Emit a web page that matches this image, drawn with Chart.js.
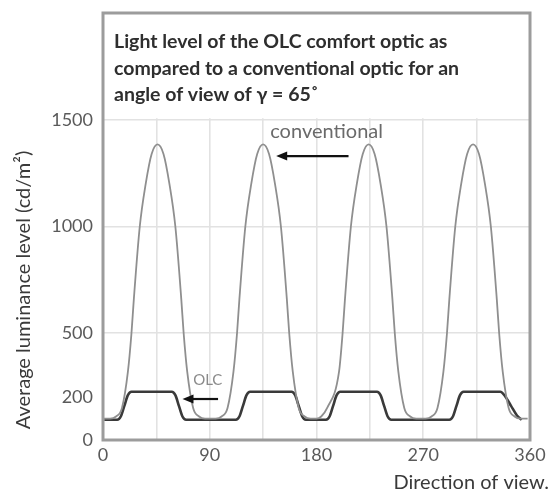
<!DOCTYPE html>
<html>
<head>
<meta charset="utf-8">
<script src="https://cdn.jsdelivr.net/npm/chart.js@4"></script>
<style>
html,body{margin:0;padding:0;background:#fff;}
#wrap{width:550px;height:493px;position:relative;}
</style>
</head>
<body>
<div id="wrap"><canvas id="c" width="550" height="493"></canvas></div>
<script>
// ---- data ----
const titleLines = ["Light level of the OLC comfort optic as", "compared to a conventional optic for an", "angle of view of \u03b3 = 65\u02da"];
const yAxisTitle = "Average luminance level (cd/m\u00b2)";
const xAxisTitle = "Direction of view.";
const yTickValues = [0, 200, 500, 1000, 1500];
const xTickStep = 45;
const xLabelStep = 90;

const convAngles = [0, 6, 11, 16, 21, 24, 26, 31, 36, 41, 46, 51, 56, 61, 66, 68, 71, 76, 81, 86,
  95, 100, 105, 110, 113, 115, 120, 125, 130, 135, 140, 145, 150, 155, 157, 160, 165, 170, 175,
  180, 184, 189, 199, 202, 204, 209, 214, 219, 224, 229, 234, 239, 244, 246, 249, 254, 259, 264,
  272, 277, 282, 287, 290, 292, 297, 302, 307, 312, 317, 322, 327, 332, 334, 337, 342, 347, 352, 358];
const convValues = [100, 100, 110, 150, 320, 500, 660, 1000, 1200, 1340, 1385, 1340, 1200, 1000, 660, 500, 320, 150, 110, 100,
  100, 110, 150, 320, 500, 660, 1000, 1200, 1340, 1385, 1340, 1200, 1000, 660, 500, 320, 150, 110, 100,
  100, 110, 150, 320, 500, 660, 1000, 1200, 1340, 1385, 1340, 1200, 1000, 660, 500, 320, 150, 110, 100,
  100, 110, 150, 320, 500, 660, 1000, 1200, 1340, 1385, 1340, 1200, 1000, 660, 500, 320, 150, 110, 100, 100];

const olcAngles = [1, 12, 15, 18, 21, 24, 58, 61, 64, 67, 70, 112, 115, 118, 121, 124, 159, 162, 165, 168, 171,
  188, 191, 194, 197, 200, 231, 234, 237, 240, 243, 292, 295, 298, 301, 304, 335, 339, 344, 349, 353];
const olcValues = [95, 95, 110, 160, 210, 226, 226, 210, 160, 110, 95, 95, 110, 160, 210, 226, 226, 210, 160, 110, 95,
  95, 110, 160, 210, 226, 226, 210, 160, 110, 95, 95, 110, 160, 210, 226, 226, 205, 160, 115, 95];

// annotation anchors (data coordinates)
const convLabel = {text: "conventional", x: 141, y: 1445};
const convArrow = {fromX: 207, toX: 146, y: 1330};
const olcLabel = {text: "OLC", x: 76, y: 280};
const olcArrow = {fromX: 97, toX: 67, y: 192};

const toPts = (xs, ys) => xs.map((x, i) => ({x: x, y: ys[i]}));

const FONT = "Lato, 'Open Sans', sans-serif";

function arrow(ctx, x1, x2, y) {
  ctx.save();
  ctx.strokeStyle = '#111';
  ctx.fillStyle = '#111';
  ctx.lineWidth = 2.2;
  ctx.beginPath();
  ctx.moveTo(x1, y);
  ctx.lineTo(x2 + 8, y);
  ctx.stroke();
  ctx.beginPath();
  ctx.moveTo(x2, y);
  ctx.lineTo(x2 + 11, y - 4.5);
  ctx.lineTo(x2 + 11, y + 4.5);
  ctx.closePath();
  ctx.fill();
  ctx.restore();
}

const decor = {
  id: 'decor',
  beforeDatasetsDraw(chart) {
    const {ctx, chartArea: a, scales: {x, y}} = chart;
    const yb = y.getPixelForValue(yTickValues[yTickValues.length - 1]) - 1.5;
    ctx.save();
    ctx.fillStyle = '#fff';
    ctx.fillRect(a.left, a.top, a.right - a.left, yb - a.top);
    ctx.fillStyle = '#2e2e2e';
    ctx.font = "bold 19.5px " + FONT;
    ctx.textBaseline = 'middle';
    ctx.textAlign = 'left';
    titleLines.forEach((t, i) => ctx.fillText(t, a.left + 11, a.top + 29 + i * 26.5));
    ctx.restore();
  },
  afterDraw(chart) {
    const {ctx, chartArea: a, scales: {x, y}} = chart;
    ctx.save();
    ctx.strokeStyle = '#9c9c9c';
    ctx.lineWidth = 3;
    ctx.strokeRect(a.left, a.top, a.right - a.left, a.bottom - a.top);
    // annotations
    ctx.fillStyle = '#6a6a6a';
    ctx.font = "20px " + FONT;
    ctx.textBaseline = 'middle';
    ctx.fillText(convLabel.text, x.getPixelForValue(convLabel.x), y.getPixelForValue(convLabel.y));
    arrow(ctx, x.getPixelForValue(convArrow.fromX), x.getPixelForValue(convArrow.toX), y.getPixelForValue(convArrow.y));
    ctx.fillStyle = '#8a8a8a';
    ctx.font = "15px " + FONT;
    ctx.fillText(olcLabel.text, x.getPixelForValue(olcLabel.x), y.getPixelForValue(olcLabel.y));
    arrow(ctx, x.getPixelForValue(olcArrow.fromX), x.getPixelForValue(olcArrow.toX), y.getPixelForValue(olcArrow.y));
    // axis titles
    ctx.fillStyle = '#3a3a3a';
    ctx.font = "20px " + FONT;
    ctx.textAlign = 'right';
    ctx.textBaseline = 'middle';
    ctx.fillText(xAxisTitle, 549, 483);
    ctx.save();
    ctx.translate(24, 290);
    ctx.rotate(-Math.PI / 2);
    ctx.textAlign = 'center';
    ctx.fillText(yAxisTitle, 0, 0);
    ctx.restore();
    ctx.restore();
  }
};

new Chart(document.getElementById('c'), {
  type: 'line',
  data: {
    datasets: [
      {label: 'conventional', data: toPts(convAngles, convValues), borderColor: '#8f8f8f', borderWidth: 1.8,
        pointRadius: 0, cubicInterpolationMode: 'monotone', fill: false},
      {label: 'OLC', data: toPts(olcAngles, olcValues), borderColor: '#3a3a3a', borderWidth: 2.6,
        pointRadius: 0, cubicInterpolationMode: 'monotone', fill: false}
    ]
  },
  options: {
    responsive: false,
    animation: false,
    events: [],
    layout: {padding: {left: 0, right: 20, top: 13, bottom: 0}},
    plugins: {legend: {display: false}, tooltip: {enabled: false}, title: {display: false}},
    scales: {
      x: {
        type: 'linear', min: 0, max: 360,
        afterFit: s => { s.height = 53; s.paddingLeft = 0; s.paddingRight = 0; },
        border: {display: false},
        grid: {color: '#e2e2e2', lineWidth: 1.6, drawTicks: false},
        ticks: {stepSize: xTickStep, padding: 4, color: '#5a5a5a', font: {family: FONT, size: 18},
          maxRotation: 0, autoSkip: false,
          callback: v => (v % xLabelStep === 0 ? String(v) : '')}
      },
      y: {
        type: 'linear', min: 0, max: 2000,
        afterFit: s => { s.width = 103; s.paddingTop = 0; s.paddingBottom = 0; },
        afterBuildTicks: s => { s.ticks = yTickValues.map(v => ({value: v})); },
        border: {display: false},
        grid: {color: c => (c.tick && (c.tick.value === 0 || c.tick.value === 200) ? 'rgba(0,0,0,0)' : '#e2e2e2'),
          lineWidth: 1.6, drawTicks: false},
        ticks: {padding: 10, color: '#5a5a5a', font: {family: FONT, size: 18},
          callback: v => String(v)}
      }
    }
  },
  plugins: [decor]
});
</script>
</body>
</html>
